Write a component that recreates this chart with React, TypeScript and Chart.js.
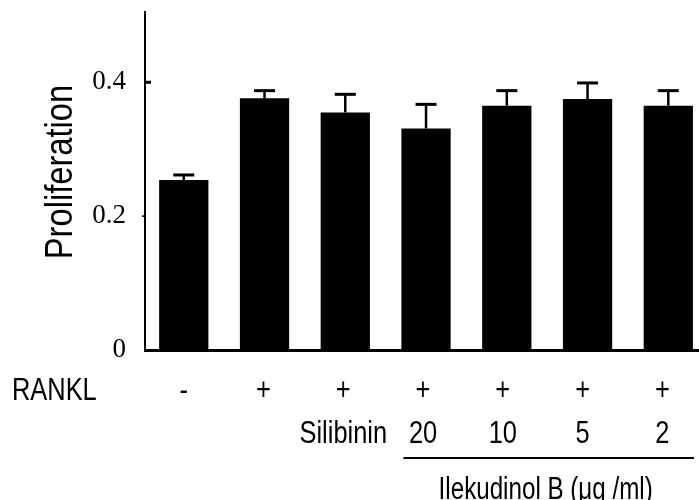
import React, { useEffect, useRef } from 'react';
import { Chart, registerables } from 'chart.js';

Chart.register(...registerables);

// ---- data ----
const rankl = ['-', '+', '+', '+', '+', '+', '+'];
const treatments = ['', '', 'Silibinin', '20', '10', '5', '2'];
const proliferation = [0.254, 0.376, 0.355, 0.331, 0.365, 0.375, 0.365];
const errors = [0.0075, 0.0115, 0.027, 0.036, 0.0225, 0.024, 0.0225];
const yTicks = [0, 0.2, 0.4];
const rowTitle = 'RANKL';
const groupLabel = 'Ilekudinol B (μg /ml)';
const groupStart = 3;
const groupEnd = 6;
const yTitle = 'Proliferation';

const SANS = '"Liberation Sans", Arial, sans-serif';

function squeezedText(
  ctx: CanvasRenderingContext2D,
  text: string,
  x: number,
  y: number,
  size: number,
  align: CanvasTextAlign,
  squeeze: number,
  rotate = 0
) {
  ctx.save();
  ctx.translate(x, y);
  if (rotate) ctx.rotate(rotate);
  ctx.scale(squeeze, 1);
  ctx.font = `${size}px ${SANS}`;
  ctx.textAlign = align;
  ctx.textBaseline = 'alphabetic';
  ctx.fillStyle = '#000';
  ctx.fillText(text, 0, 0);
  ctx.restore();
}

const annotate = {
  id: 'annotate',
  afterDatasetsDraw(chart: any) {
    const ctx: CanvasRenderingContext2D = chart.ctx;
    const meta = chart.getDatasetMeta(0);
    const ys = chart.scales.y;
    ctx.save();
    ctx.strokeStyle = '#000';
    ctx.lineCap = 'butt';
    // error bars
    meta.data.forEach((bar: any, i: number) => {
      const top = ys.getPixelForValue(proliferation[i]);
      const cap = ys.getPixelForValue(proliferation[i] + errors[i]);
      ctx.lineWidth = 2.5;
      ctx.beginPath();
      ctx.moveTo(bar.x, top);
      ctx.lineTo(bar.x, cap);
      ctx.stroke();
      ctx.lineWidth = 3;
      ctx.beginPath();
      ctx.moveTo(bar.x - 10.5, cap);
      ctx.lineTo(bar.x + 10.5, cap);
      ctx.stroke();
    });
    // y tick marks
    const axisX = chart.chartArea.left;
    const p4 = ys.getPixelForValue(yTicks[2]);
    const p2 = ys.getPixelForValue(yTicks[1]);
    ctx.lineWidth = 3;
    ctx.beginPath();
    ctx.moveTo(axisX, p4);
    ctx.lineTo(axisX + 6, p4);
    ctx.stroke();
    ctx.lineWidth = 1.5;
    ctx.beginPath();
    ctx.moveTo(axisX - 3, p2);
    ctx.lineTo(axisX, p2);
    ctx.stroke();
    ctx.restore();
  },
  afterDraw(chart: any) {
    const ctx: CanvasRenderingContext2D = chart.ctx;
    const meta = chart.getDatasetMeta(0);
    // y title
    squeezedText(ctx, yTitle, 72, 172, 38, 'center', 0.86, -Math.PI / 2);
    // RANKL row
    squeezedText(ctx, rowTitle, 12, 400, 31, 'left', 0.82);
    meta.data.forEach((bar: any, i: number) => {
      const cx = bar.x - i;
      squeezedText(ctx, rankl[i], cx, 400, 31, 'center', 0.82);
      if (treatments[i]) squeezedText(ctx, treatments[i], cx, 443, 31, 'center', 0.82);
    });
    // group line + label
    const b0 = meta.data[groupStart];
    const b1 = meta.data[groupEnd];
    const x0 = b0.x - b0.width / 2 + 2;
    const x1 = b1.x + b1.width / 2 + 1;
    ctx.save();
    ctx.strokeStyle = '#000';
    ctx.lineWidth = 2;
    ctx.beginPath();
    ctx.moveTo(x0, 458);
    ctx.lineTo(x1, 458);
    ctx.stroke();
    ctx.restore();
    squeezedText(ctx, groupLabel, (x0 + x1) / 2 - 3, 499, 31, 'center', 0.78);
  },
};

export default function App() {
  const ref = useRef<HTMLCanvasElement | null>(null);
  useEffect(() => {
    if (!ref.current) return;
    const chart = new Chart(ref.current, {
      type: 'bar',
      data: {
        datasets: [
          {
            data: proliferation.map((v, i) => ({ x: i, y: v })),
            backgroundColor: '#000',
            borderWidth: 0,
            barPercentage: 0.61,
            categoryPercentage: 1,
          },
        ],
      },
      options: {
        responsive: false,
        animation: false,
        events: [],
        layout: { padding: { top: 12, right: 0, bottom: 0, left: 0 } },
        plugins: { legend: { display: false }, tooltip: { enabled: false } },
        scales: {
          x: {
            type: 'linear',
            offset: false,
            min: -0.48,
            max: 6.38,
            afterBuildTicks: (s: any) => {
              s.ticks = rankl.map((_, i) => ({ value: i }));
            },
            afterFit: (s: any) => {
              s.height = 150;
              s.paddingLeft = 0;
              s.paddingRight = 0;
            },
            ticks: { display: false },
            grid: { display: false, drawTicks: false, offset: false },
            border: { display: true, color: '#000', width: 3 },
          },
          y: {
            min: 0,
            max: 0.505,
            afterBuildTicks: (s: any) => {
              s.ticks = yTicks.map((v) => ({ value: v }));
            },
            afterFit: (s: any) => {
              s.width = 145;
              s.paddingTop = 0;
              s.paddingBottom = 0;
            },
            ticks: {
              color: '#000',
              padding: 19,
              font: { family: '"Liberation Serif", "Times New Roman", serif', size: 27 },
              callback: (v: any) => String(v),
            },
            grid: { display: false, drawTicks: false },
            border: { display: true, color: '#000', width: 2 },
          },
        },
      } as any,
      plugins: [annotate],
    });
    return () => chart.destroy();
  }, []);
  return (
    <div style={{ position: 'absolute', left: 0, top: 0, width: 699, height: 500, background: '#fff' }}>
      <canvas ref={ref} width={699} height={500} style={{ display: 'block' }} />
    </div>
  );
}
